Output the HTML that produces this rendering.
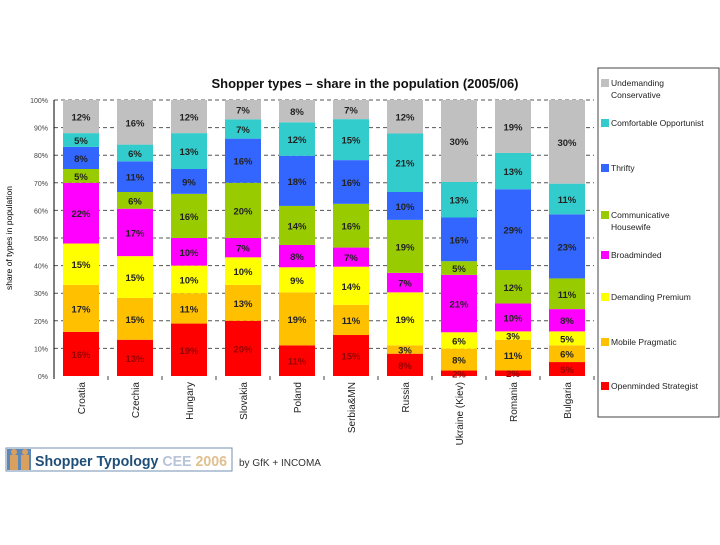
<!DOCTYPE html>
<html><head><meta charset="utf-8"><style>
body{margin:0;background:#fff;width:720px;height:540px;overflow:hidden;font-family:"Liberation Sans","DejaVu Sans",sans-serif}
</style></head><body>
<svg id="chart" width="720" height="540" xmlns="http://www.w3.org/2000/svg" font-family="Liberation Sans, DejaVu Sans, sans-serif">
<text x="365" y="88" text-anchor="middle" font-size="13" font-weight="bold" fill="#111">Shopper types – share in the population (2005/06)</text>
<text transform="translate(12,238) rotate(-90)" text-anchor="middle" font-size="8.5" fill="#000">share of types in population</text>
<g id="grid"></g><g id="bars"></g><g id="axes"></g>
<rect x="598" y="68" width="121" height="349" fill="#fff" stroke="#444" stroke-width="1"/>
<g id="legend"></g>
<g>
<rect x="6" y="448" width="226" height="23" fill="#fff" stroke="#7090b0" stroke-width="1"/>
<rect x="7" y="449" width="24" height="21" fill="#5b88b8"/>
<rect x="10" y="455" width="8" height="15" fill="#d9a060"/><circle cx="14" cy="452" r="3" fill="#d9a060"/>
<rect x="21" y="455" width="8" height="15" fill="#d9a060"/><circle cx="25" cy="452" r="3" fill="#d9a060"/>
<text x="35" y="466" font-size="15" font-weight="bold" fill="#1f4e79" textLength="192" lengthAdjust="spacingAndGlyphs">Shopper Typology <tspan fill="#b8c4d8">CEE</tspan> <tspan fill="#e0c090">2006</tspan></text>
</g>
<text x="239" y="466" font-size="10" fill="#333">by  GfK + INCOMA</text>
</svg>
<script>
const categories=["Croatia","Czechia","Hungary","Slovakia","Poland","Serbia&MN","Russia","Ukraine (Kiev)","Romania","Bulgaria"];
const seriesNames=["Openminded Strategist","Mobile Pragmatic","Demanding Premium","Broadminded","Communicative Housewife","Thrifty","Comfortable Opportunist","Undemanding Conservative"];
const strategist=[16,13,19,20,11,15,8,2,2,5];
const mobile=[17,15,11,13,19,11,3,8,11,6];
const demanding=[15,15,10,10,9,14,19,6,3,5];
const broadminded=[22,17,10,7,8,7,7,21,10,8];
const communicative=[5,6,16,20,14,16,19,5,12,11];
const thrifty=[8,11,9,16,18,16,10,16,29,23];
const comfortable=[5,6,13,7,12,15,21,13,13,11];
const undemanding=[12,16,12,7,8,7,12,30,19,30];
const yTicks=["0%","10%","20%","30%","40%","50%","60%","70%","80%","90%","100%"];
const series=[strategist,mobile,demanding,broadminded,communicative,thrifty,comfortable,undemanding];
const colors=["#ff0000","#ffc000","#ffff00","#ff00ff","#99cc00","#3366ff","#33cccc","#c0c0c0"];
const NS="http://www.w3.org/2000/svg";
const X0=54,X1=594,Y0=376,Y1=100,BW=36;
const step=(X1-X0)/categories.length;
const xc=i=>X0+step*(i+0.5);
const y=p=>Y0-(Y0-Y1)*p/100;
function mk(t,a,p){const e=document.createElementNS(NS,t);for(const k in a)e.setAttribute(k,a[k]);p.appendChild(e);return e;}
const grid=document.getElementById('grid'),bars=document.getElementById('bars'),axes=document.getElementById('axes'),legend=document.getElementById('legend');
yTicks.forEach((t,i)=>{
  const yy=y(i*10);
  if(i>0){const g=mk('line',{x1:X0,x2:X1,y1:yy,y2:yy,stroke:'#555','stroke-dasharray':'4,3','stroke-width':1},grid);
  
  }
  const tx=mk('text',{x:X0-6,y:yy+3,'text-anchor':'end','font-size':7,fill:'#444'},axes);tx.textContent=t;
  
  
});
categories.forEach((c,i)=>{
  let tot=0;series.forEach(s=>tot+=s[i]);
  let acc=0;
  series.forEach((s,k)=>{
    const v=s[i];const yb=y(acc/tot*100),yt=y((acc+v)/tot*100);acc+=v;
    const r=mk('rect',{x:xc(i)-BW/2,y:yt,width:BW,height:yb-yt,fill:colors[k]},bars);
    
    
    const lab=mk('text',{x:xc(i),y:(yt+yb)/2+4,'text-anchor':'middle','font-size':9.5,'font-weight':'bold',fill:k===0?'#900':'#222'},bars);
    lab.textContent=v+'%';
    
    
  });
  const cl=mk('text',{transform:`translate(${xc(i)+4},382) rotate(-90)`,'text-anchor':'end','font-size':10,fill:'#222'},axes);
  cl.textContent=c;
  
  
  const tk=mk('line',{x1:X0+step*(i+1),x2:X0+step*(i+1),y1:Y0,y2:Y0+4,stroke:'#444'},axes);
  
  
});
const ax=mk('line',{x1:X0,x2:X0,y1:Y1,y2:Y0+3,stroke:'#000'},axes);


const ly=[86,126,171,218,258,300,345,389];
for(let k=7;k>=0;k--){
  const yy=ly[7-k];
  const sw=mk('rect',{x:601,y:yy-7,width:8,height:8,fill:colors[k]},legend);
  
  
  const t=mk('text',{x:611,y:yy,'font-size':8.5,fill:'#222'},legend);
  const name=seriesNames[k];
  const parts=name==="Undemanding Conservative"?["Undemanding","Conservative"]:name==="Communicative Housewife"?["Communicative","Housewife"]:[name];
  parts.forEach((p,j)=>{const ts=mk('tspan',{x:611,dy:j?12:0},t);ts.textContent=p;});
  
  
}
</script>
</body></html>
